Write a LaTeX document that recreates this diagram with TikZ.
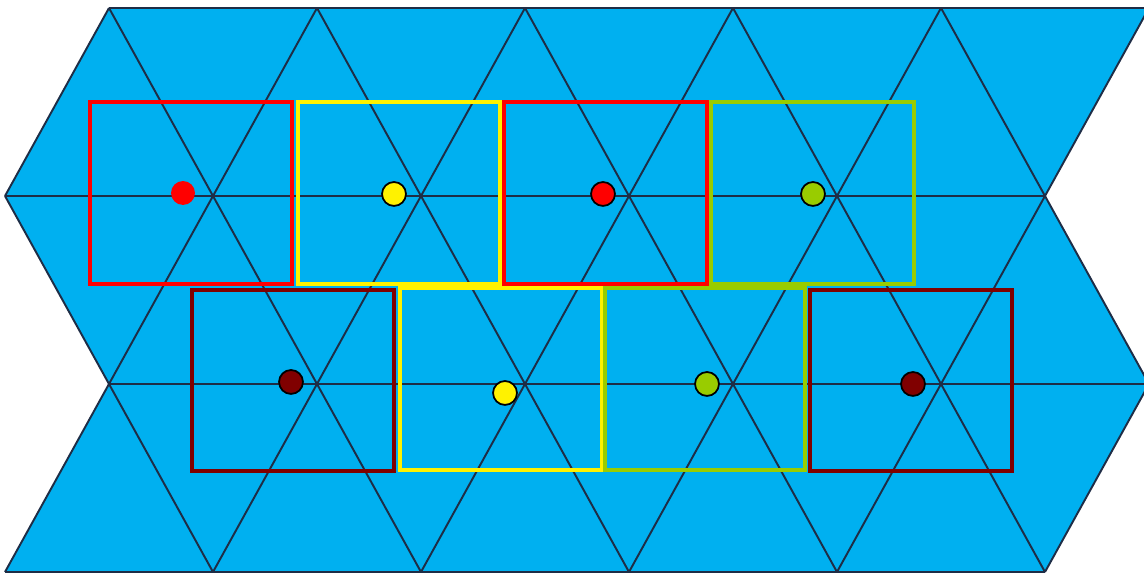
\documentclass[tikz,border=0pt]{standalone}
\usepackage{xcolor}
\usepackage{tikz}

\definecolor{tileblue}{RGB}{0,176,240}
\definecolor{gridline}{RGB}{30,45,70}
\definecolor{boxgreen}{RGB}{153,204,0}
\definecolor{boxmaroon}{RGB}{128,0,0}

\begin{document}
\begin{tikzpicture} [
    x=0.01cm, y=-0.01cm,
    edge/.style={draw=gridline, line width=0.55pt},
    cell/.style={line width=1.15pt},
    dot/.style={circle, draw=black, line width=0.5pt, minimum size=6.8pt, inner sep=0pt}
]
\useasboundingbox (0,0) rectangle (1144,574);
\clip (0,0) rectangle (1144,574);

% Tiling
\fill[tileblue] (109,8) -- (1149,8) -- (1045,196) -- (1149,384) -- (1045,572)
    -- (5,572) -- (109,384) -- (5,196) -- cycle;
\foreach \t/\a/\b in {8/109/5, 196/5/109, 384/109/5} {
    \foreach \k in {0,...,5}
        \draw[edge] (\a+208*\k,\t) -- (\b+208*\k,\t+188);
    \foreach \k in {0,...,4}
        \draw[edge] (\b+104+208*\k,\t) -- (\a+104+208*\k,\t+188);
}
\foreach \y/\l in {8/109, 196/5, 384/109, 572/5}
    \draw[edge] (\l,\y) -- (\l+1040,\y);

% Boxes
\draw[cell, red] (90,102) rectangle (292,284);
\draw[cell, yellow] (298,102) rectangle (500,284);
\draw[cell, red] (504,102) rectangle (707,284);
\draw[cell, boxgreen] (711,102) rectangle (914,284);
\draw[cell, boxmaroon] (192,290) rectangle (394,471);
\draw[cell, yellow] (400,288) rectangle (602,470);
\draw[cell, boxgreen] (605,288) rectangle (805,470);
\draw[cell, boxmaroon] (810,290) rectangle (1012,471);

% Points
\node[dot, fill=red, draw=none] (red1) at (183,193) {};
\node[dot, fill=yellow] (yellow1) at (394,194) {};
\node[dot, fill=red] (red2) at (603,194) {};
\node[dot, fill=boxgreen] (green1) at (813,194) {};
\node[dot, fill=boxmaroon] (maroon1) at (291,382) {};
\node[dot, fill=yellow] (yellow2) at (505,393) {};
\node[dot, fill=boxgreen] (green2) at (707,384) {};
\node[dot, fill=boxmaroon] (maroon2) at (913,384) {};

\end{tikzpicture}
\end{document}
